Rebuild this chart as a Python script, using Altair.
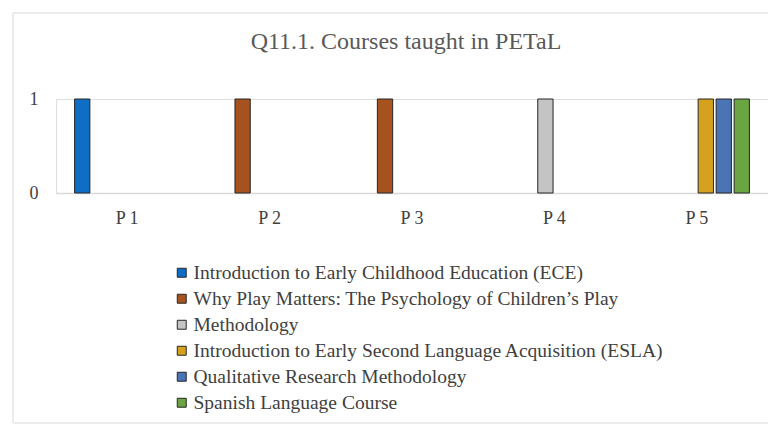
import altair as alt
import pandas as pd

participants = ["P 1", "P 2", "P 3", "P 4", "P 5"]
courses = [
    "Introduction to Early Childhood Education (ECE)",
    "Why Play Matters: The Psychology of Children\u2019s Play",
    "Methodology",
    "Introduction to Early Second Language Acquisition (ESLA)",
    "Qualitative Research Methodology",
    "Spanish Language Course",
]
ece = [1, 0, 0, 0, 0]
why_play = [0, 1, 1, 0, 0]
methodology = [0, 0, 0, 1, 0]
esla = [0, 0, 0, 0, 1]
qualitative = [0, 0, 0, 0, 1]
spanish = [0, 0, 0, 0, 1]
series = [ece, why_play, methodology, esla, qualitative, spanish]
colors = ["#0E6EC6", "#A5521F", "#C4C4C4", "#D6A21E", "#4A74B4", "#6AA443"]

rows = []
for c, vals in zip(courses, series):
    for p, v in zip(participants, vals):
        rows.append({"participant": p, "course": c, "value": v})
df = pd.DataFrame(rows)

FONT = "Liberation Serif"

bars = alt.Chart(df).transform_filter("datum.value > 0").mark_bar(
    stroke="#262626", strokeWidth=1
).encode(
    x=alt.X("participant:N", sort=participants, title=None,
            scale=alt.Scale(paddingInner=0.242, paddingOuter=0.121),
            axis=alt.Axis(labelAngle=0, ticks=False, grid=False, domainColor="#D9D9D9",
                          domainWidth=1.5, labelPadding=16, labelFontSize=18,
                          labelFont=FONT, labelColor="#404040")),
    xOffset=alt.XOffset("course:N", sort=courses,
                        scale=alt.Scale(domain=courses, paddingInner=0.15, paddingOuter=0.075)),
    y=alt.Y("value:Q", title=None, scale=alt.Scale(domain=[0, 1]),
            axis=alt.Axis(values=[0, 1], format="d", grid=False, ticks=False, domain=False,
                          labelPadding=18, labelFontSize=18, labelFont=FONT,
                          labelColor="#404040")),
    color=alt.Color("course:N", sort=courses,
                    scale=alt.Scale(domain=courses, range=colors),
                    legend=alt.Legend(title=None, orient="none", legendX=116, legendY=164,
                                      direction="vertical", symbolType="square",
                                      symbolSize=80, symbolStrokeColor="#262626",
                                      symbolStrokeWidth=1, labelFontSize=19.5,
                                      labelFont=FONT, labelColor="#404040",
                                      labelLimit=700, rowPadding=5, labelOffset=2,
                                      values=courses)),
)

frame = alt.Chart(pd.DataFrame({"k": [0]})).mark_rect(
    fill=None, stroke="#D9D9D9", strokeWidth=1
).encode(x=alt.value(-43), x2=alt.value(730), y=alt.value(-86), y2=alt.value(324))

chart = alt.layer(frame, bars).properties(
    width=712, height=94,
    title=alt.Title("Q11.1. Courses taught in PETaL", font=FONT, fontSize=24,
                    fontWeight="normal", color="#595959", anchor="middle", dx=-6, offset=-41),
    autosize=alt.AutoSizeParams(type="none"),
    padding={"left": 48, "top": 91, "right": 0, "bottom": 240},
).configure_view(stroke=None).configure_axis(grid=False).configure(background="white")

chart.save("out.html", embed_options={"renderer": "svg", "actions": False})
